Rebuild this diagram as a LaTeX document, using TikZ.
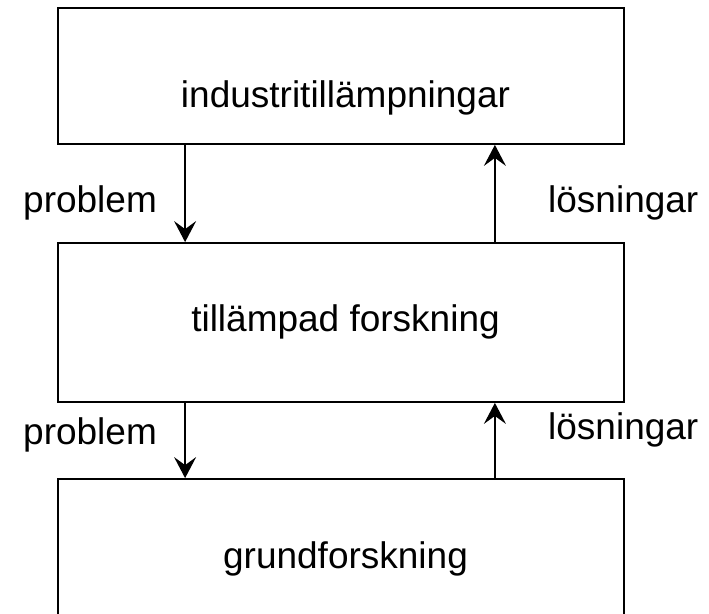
\documentclass[tikz,border=0pt]{standalone}
\usepackage{fontspec}
\setmainfont{Liberation Sans}
\usetikzlibrary{arrows.meta, positioning, calc}

\begin{document}
\begin{tikzpicture}[
  x=1pt, y=-1pt,
  font=\fontsize{37}{44}\selectfont,
  lvl/.style={draw, line width=1.8pt, minimum width=566pt, inner sep=0pt},
  txt/.style={inner sep=0pt, anchor=base},
  lbl/.style={inner sep=0pt, anchor=base west},
  flow/.style={-{Stealth[length=21pt, width=22pt, inset=8pt]}, line width=1.3pt}
]
  \useasboundingbox (0,0) rectangle (709,613);

  %--- levels ---
  \node[lvl, minimum height=136pt] (ind) at (341,76) {};
  \node[lvl, minimum height=159pt] (app) at (341,322.5) {};
  \node[lvl, minimum height=180pt] (bas) at (341,569) {};

  \node[txt] (indtxt) at (345.5,107.3) {industritillämpningar};
  \node[txt] (apptxt) at (345.5,331.4) {tillämpad forskning};
  \node[txt] (bastxt) at (345.5,568.3) {grundforskning};

  %--- problems go down, solutions go up ---
  \draw[flow] ([xshift=128pt]ind.south west) -- ([xshift=128pt]app.north west);
  \draw[flow] ([xshift=-130pt]app.north east) -- ([xshift=-130pt]ind.south east);
  \draw[flow] ([xshift=128pt]app.south west) -- ([xshift=128pt]bas.north west);
  \draw[flow] ([xshift=-130pt]bas.north east) -- ([xshift=-130pt]app.south east);

  \node[lbl] (prob1) at (23,212.7) {problem};
  \node[lbl] (los1) at (548,212.7) {lösningar};
  \node[lbl] (prob2) at (23,444) {problem};
  \node[lbl] (los2) at (548,439.3) {lösningar};

\end{tikzpicture}
\end{document}
